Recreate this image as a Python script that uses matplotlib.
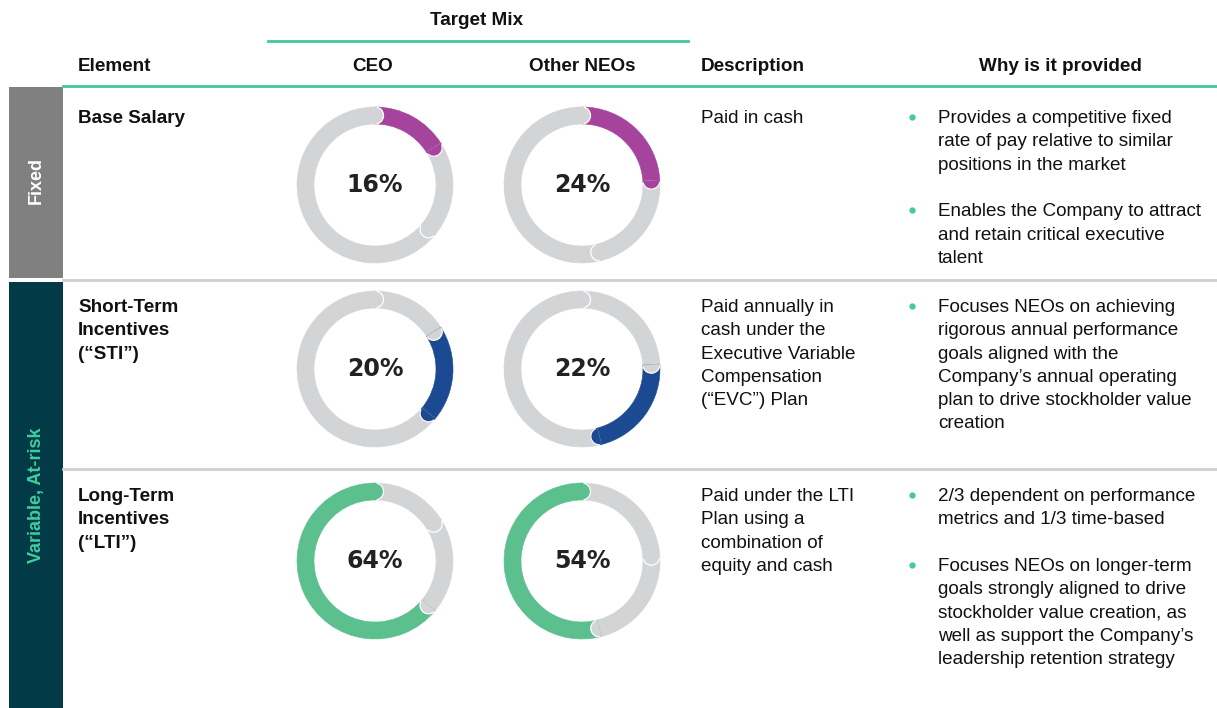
#!/usr/bin/env python3

"""
Target pay mix table with donut charts
"""

import math
import matplotlib
matplotlib.use("Agg")
import matplotlib.pyplot as plt
from matplotlib.patches import Wedge, Arc, Rectangle

# --- data ---
elements = ["Base Salary", "Short-Term Incentives", "Long-Term Incentives"]
ceo_mix = [16, 20, 64]
neo_mix = [24, 22, 54]
element_colors = ["#a6439d", "#1b4a93", "#5bbf8e"]

element_labels = [
    ["Base Salary"],
    ["Short-Term", "Incentives", "(\u201cSTI\u201d)"],
    ["Long-Term", "Incentives", "(\u201cLTI\u201d)"],
]
descriptions = [
    ["Paid in cash"],
    ["Paid annually in", "cash under the", "Executive Variable", "Compensation",
     "(\u201cEVC\u201d) Plan"],
    ["Paid under the LTI", "Plan using a", "combination of", "equity and cash"],
]
reasons = [
    [["Provides a competitive fixed", "rate of pay relative to similar",
      "positions in the market"],
     ["Enables the Company to attract", "and retain critical executive", "talent"]],
    [["Focuses NEOs on achieving", "rigorous annual performance",
      "goals aligned with the", "Company\u2019s annual operating",
      "plan to drive stockholder value", "creation"]],
    [["2/3 dependent on performance", "metrics and 1/3 time-based"],
     ["Focuses NEOs on longer-term", "goals strongly aligned to drive",
      "stockholder value creation, as", "well as support the Company\u2019s",
      "leadership retention strategy"]],
]

# --- layout (pixels, top-left origin) ---
W, H = 1217, 708
TEAL = "#41c999"
GREY_RING = "#d3d4d6"
SEP = "#cfcfcf"
FONT = "Liberation Sans"
FS = 13.6
LINE = 23.3
row_base = [123, 312, 501]
row_cy = [185, 369, 561]
ceo_cx, neo_cx = 375, 582
R_OUT, RING = 78, 17


def Y(p):
    return H - p


def draw_lines(ax, x, y0, lines, bold=False, **kw):
    for i, line in enumerate(lines):
        ax.text(x, Y(y0 + i * LINE), line, fontsize=FS, family=FONT,
                fontweight="bold" if bold else "normal", color="#111111",
                va="baseline", ha="left", **kw)


def donut(ax, cx, cy, shares, highlight, color):
    cy = Y(cy)
    bounds = [0]
    for s in shares:
        bounds.append(bounds[-1] + s)
    total = bounds[-1]
    cols = [color if k == highlight else GREY_RING for k in range(len(shares))]
    for k in range(len(shares)):
        t1 = 90 - bounds[k + 1] / total * 360
        t2 = 90 - bounds[k] / total * 360
        ax.add_patch(Wedge((cx, cy), R_OUT, t1, t2, width=RING,
                           facecolor=cols[k], edgecolor=cols[k],
                           linewidth=0.4, zorder=2))
    # rounded end caps, each one lying over the start of the next segment
    rm = R_OUT - RING / 2
    for k in range(len(shares)):
        th = 90 - bounds[k + 1] / total * 360
        px = cx + rm * math.cos(math.radians(th))
        py = cy + rm * math.sin(math.radians(th))
        ax.add_patch(Wedge((px, py), RING / 2, th - 180, th,
                           facecolor=cols[k], edgecolor=cols[k],
                           linewidth=0.4, zorder=3))
        ax.add_patch(Arc((px, py), RING, RING, theta1=th - 170, theta2=th - 10,
                         edgecolor="white", linewidth=0.9, zorder=4))
    ax.text(cx, cy, f"{shares[highlight]}%", fontsize=17, fontweight="bold",
            family="DejaVu Sans", color="#222222", ha="center", va="center",
            zorder=5)


fig = plt.figure(figsize=(W / 100, H / 100), dpi=100)
ax = fig.add_axes([0, 0, 1, 1])
ax.set_xlim(0, W)
ax.set_ylim(0, H)
ax.set_aspect("equal")
ax.axis("off")

# header
ax.text(477, Y(25), "Target Mix", fontsize=FS, family=FONT, fontweight="bold",
        ha="center", va="baseline", color="#111111")
ax.plot([268, 688], [Y(41), Y(41)], color=TEAL, linewidth=2)
ax.text(78, Y(71), "Element", fontsize=FS, family=FONT, fontweight="bold",
        va="baseline", color="#111111")
ax.text(ceo_cx - 2, Y(71), "CEO", fontsize=FS, family=FONT, fontweight="bold",
        ha="center", va="baseline", color="#111111")
ax.text(neo_cx, Y(71), "Other NEOs", fontsize=FS, family=FONT, fontweight="bold",
        ha="center", va="baseline", color="#111111")
ax.text(701, Y(71), "Description", fontsize=FS, family=FONT, fontweight="bold",
        va="baseline", color="#111111")
ax.text(1060, Y(71), "Why is it provided", fontsize=FS, family=FONT,
        fontweight="bold", ha="center", va="baseline", color="#111111")
ax.plot([63, W], [Y(86), Y(86)], color=TEAL, linewidth=2)

# side bands
ax.add_patch(Rectangle((9, Y(278)), 54, 278 - 87, facecolor="#808080",
                       edgecolor="none"))
ax.add_patch(Rectangle((9, 0), 54, Y(282), facecolor="#023a47",
                       edgecolor="none"))
ax.text(36, Y(180), "Fixed", rotation=90, fontsize=13, family=FONT,
        fontweight="bold", color="white", ha="center", va="center")
ax.text(36, Y(495), "Variable, At-risk", rotation=90, fontsize=13, family=FONT,
        fontweight="bold", color="#3ecf9b", ha="center", va="center")

# row separators
for yy in [280, 469]:
    ax.plot([63, W], [Y(yy), Y(yy)], color=SEP, linewidth=2, zorder=1)

# rows
for i in range(len(elements)):
    draw_lines(ax, 78, row_base[i], element_labels[i], bold=True)
    draw_lines(ax, 701, row_base[i], descriptions[i])
    y = row_base[i]
    for bullet in reasons[i]:
        ax.plot(912, Y(y - 6), marker="o", markersize=3.5, color=TEAL,
                linestyle="none")
        draw_lines(ax, 938, y, bullet)
        y += (len(bullet) + 1) * LINE
    donut(ax, ceo_cx, row_cy[i], ceo_mix, i, element_colors[i])
    donut(ax, neo_cx, row_cy[i], neo_mix, i, element_colors[i])

fig.savefig("out.png", dpi=100)
